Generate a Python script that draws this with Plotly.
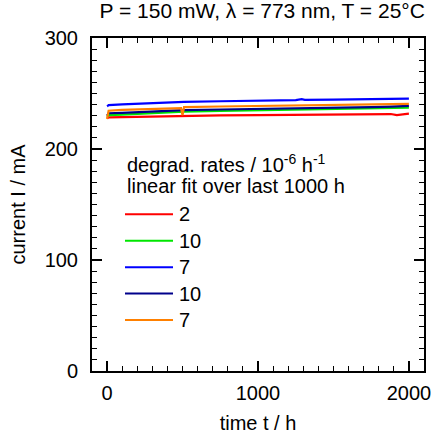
import plotly.graph_objects as go

time_h = [0, 10, 100, 250, 490, 500, 510, 750, 1000, 1250, 1290, 1310, 1500, 1750, 1880, 1920, 2000]

red = [227.5, 228.5, 228.8, 229.3, 229.8, 229.8, 230.0, 230.3, 230.6, 230.8, 231.0, 230.8, 231.2, 231.5, 231.5, 230.5, 231.8]
green = [229.0, 230.5, 231.0, 232.0, 233.3, 233.3, 233.7, 234.3, 234.8, 235.3, 235.6, 235.3, 235.8, 236.5, 236.8, 236.9, 237.2]
blue = [238.5, 239.5, 240.2, 241.2, 242.2, 242.3, 242.5, 243.0, 243.5, 244.1, 244.9, 244.3, 244.5, 244.9, 245.1, 245.2, 245.4]
navy = [230.0, 232.2, 232.5, 233.5, 234.8, 234.8, 235.0, 235.6, 236.0, 236.5, 237.0, 236.6, 237.2, 237.8, 238.2, 238.4, 238.8]
orange = [227.0, 234.5, 235.2, 236.0, 236.8, 230.5, 237.8, 238.3, 238.8, 239.2, 239.5, 239.3, 239.6, 240.0, 240.3, 240.4, 240.6]

series_names = ["2", "10", "7", "10", "7"]
series_values = [red, green, blue, navy, orange]
series_colors = ["#ff0000", "#00e600", "#0000ff", "#00008b", "#ff8000"]

x_ticks = [0, 1000, 2000]
y_ticks = [0, 100, 200, 300]

legend_header = ["degrad. rates / 10<sup>-6</sup> h<sup>-1</sup>", "linear fit over last 1000 h"]

FONT = "Liberation Sans, Arial, Helvetica, sans-serif"
FS = 20

fig = go.Figure()
for name, vals, col in zip(series_names, series_values, series_colors):
    fig.add_trace(go.Scatter(x=time_h, y=vals, mode="lines", name=name,
                             line=dict(color=col, width=2.2), showlegend=False))

# manual legend (paper coordinates)
hdr_y = [0.622, 0.557]
for txt, yy in zip(legend_header, hdr_y):
    fig.add_annotation(x=0.098, y=yy, xref="paper", yref="paper", text=txt,
                       showarrow=False, xanchor="left", yanchor="middle",
                       font=dict(size=FS, family=FONT, color="black"))
entry_y0, entry_dy = 0.4706, 0.0794
for i, (name, col) in enumerate(zip(series_names, series_colors)):
    yy = entry_y0 - i * entry_dy
    fig.add_shape(type="line", xref="paper", yref="paper", x0=0.0994, x1=0.244, y0=yy, y1=yy,
                  line=dict(color=col, width=2))
    fig.add_annotation(x=0.255, y=yy, xref="paper", yref="paper", text=name,
                       showarrow=False, xanchor="left", yanchor="middle",
                       font=dict(size=FS, family=FONT, color="black"))

axis_common = dict(
    showgrid=False, zeroline=False, showline=True, linecolor="black", linewidth=2,
    mirror="allticks", ticks="inside", tickcolor="black", tickwidth=1.5,
    tickfont=dict(size=FS, color="black", family=FONT), automargin=False,
)

fig.update_xaxes(range=[-100, 2100], tickvals=x_ticks, ticklen=10, ticklabelstandoff=3,
                 minor=dict(dtick=100, tick0=0, ticks="inside", ticklen=5, tickcolor="black", tickwidth=1.2),
                 title=dict(text="time t / h", font=dict(size=FS, color="black", family=FONT), standoff=18),
                 **axis_common)
fig.update_yaxes(range=[0, 300], tickvals=y_ticks, ticklen=10, ticklabelstandoff=8,
                 minor=dict(dtick=10, tick0=0, ticks="inside", ticklen=5, tickcolor="black", tickwidth=1.2),
                 title=dict(text="current I / mA", font=dict(size=FS, color="black", family=FONT), standoff=14),
                 **axis_common)

fig.update_layout(
    width=432, height=434,
    margin=dict(l=92, r=8, t=38, b=63, autoexpand=False),
    paper_bgcolor="white", plot_bgcolor="white",
    font=dict(family=FONT, size=FS, color="black"),
    title=dict(text="P = 150 mW, λ = 773 nm, T = 25°C", x=0.607, xanchor="center",
               y=0.975, yanchor="middle", font=dict(size=21, family=FONT, color="black")),
    showlegend=False,
)

fig.write_html("out.html")
